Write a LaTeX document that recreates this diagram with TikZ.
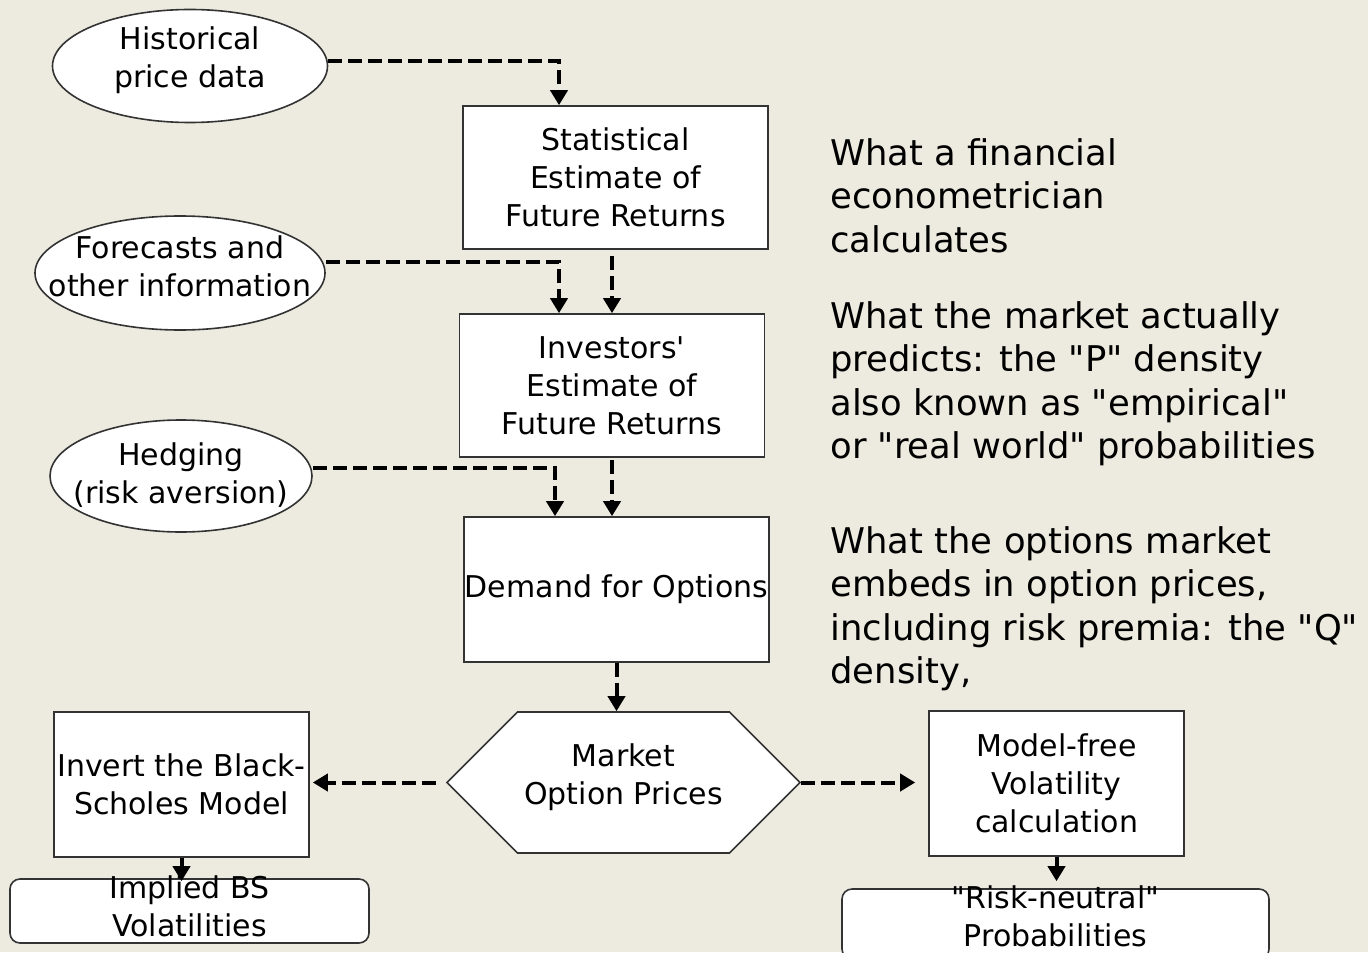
\documentclass[tikz,border=0pt]{standalone}
\usepackage{fontspec}
\setmainfont{DejaVu Sans}[Ligatures=TeXOff]
\usetikzlibrary{arrows.meta,positioning,shapes.geometric,shapes.symbols}
\definecolor{paperbeige}{RGB}{237,235,224}
\definecolor{edgegray}{RGB}{51,51,51}
\newcommand{\boxfont}{\fontsize{15}{19}\selectfont}
\newcommand{\notefont}{\fontsize{17.7}{21.75}\selectfont}

\begin{document}
\begin{tikzpicture}[x=0.5pt, y=-0.5pt, every node/.style={font=\boxfont},
  plainbox/.style={draw=edgegray, line width=0.8pt, fill=white, inner sep=0pt, align=center},
  oval/.style={ellipse, draw=edgegray, line width=0.8pt, fill=white},
  roundbox/.style={draw=edgegray, line width=0.8pt, fill=white, rounded corners=5pt},
  dashflow/.style={line width=2pt, dash pattern=on 7pt off 3pt, -{Triangle[width=8.5pt,length=7.5pt]}},
  flow/.style={line width=2pt, -{Triangle[width=8.5pt,length=7.5pt]}},
  note/.style={font=\notefont, align=left, anchor=north west, inner sep=0pt}]
  \fill[paperbeige] (0,0) rectangle (1368,952);
  \useasboundingbox (0,0) rectangle (1368,952);
  % inputs on the left
  \node[oval, minimum width=137.5pt, minimum height=56.5pt, label={[align=center,yshift=3pt]center:Historical\\price data}] (hist) at (190,66) {};
  \node[oval, minimum width=145pt, minimum height=57pt, label={[align=center,yshift=3.5pt]center:Forecasts and\\other information}] (fore) at (180,273) {};
  \node[oval, minimum width=131pt, minimum height=56pt, label={[align=center,yshift=0.5pt]center:Hedging\\(risk aversion)}] (hedge) at (181,476) {};
  % main chain
  \node[plainbox, minimum width=152.5pt, minimum height=71.5pt] (stat) at (615.5,177.5) {Statistical\\Estimate of\\Future Returns};
  \node[plainbox, minimum width=152.5pt, minimum height=71.5pt] (inv) at (612,385.5) {Investors'\\Estimate of\\Future Returns};
  \node[plainbox, minimum width=152.5pt, minimum height=72.5pt] (dem) at (616.5,589.5) {Demand for Options};
  \node[signal, signal to=east and west, signal pointer angle=90, draw=edgegray, line width=0.8pt, fill=white,
        minimum width=176.5pt, minimum height=70.5pt, label={[align=center,yshift=2.5pt]center:Market\\Option Prices}] (hex) at (623.5,782.5) {};
  \node[plainbox, minimum width=127.5pt, minimum height=72.5pt] (bs) at (181.5,784.5) {Invert the Black-\\Scholes Model};
  \node[plainbox, minimum width=127.5pt, minimum height=72.5pt] (mf) at (1056.5,783.5) {Model-free\\Volatility\\calculation};
  \node[roundbox, minimum width=179.5pt, minimum height=32pt, label={[align=center,yshift=2.5pt]center:Implied BS\\Volatilities}] (impl) at (189.5,911) {};
  \node[roundbox, minimum width=213.5pt, minimum height=35pt, label={[align=center,yshift=4pt]center:"Risk-neutral"\\Probabilities}] (risk) at (1055.5,924) {};
  % notes on the right
  \node[note] (econ) at (830,138) {What a financial\\econometrician\\calculates};
  \node[note] (pdens) at (830,301) {What the market actually\\predicts: the "P" density\\also known as "empirical"\\or "real world" probabilities};
  \node[note] (qdens) at (830,526) {What the options market\\embeds in option prices,\\including risk premia: the "Q"\\density,};
  % connectors
  \draw[dashflow] ([yshift=2.5pt]hist.east) -| ([xshift=-28.25pt]stat.north);
  \draw[dashflow] ([yshift=5.5pt]fore.east) -| ([xshift=-26.5pt]inv.north);
  \draw[dashflow, shorten <=3pt] (stat.south -| inv.north) -- (inv.north);
  \draw[dashflow] ([yshift=4pt]hedge.east) -| ([xshift=-30.75pt]dem.north);
  \draw[dashflow, shorten <=1pt] (inv.south) -- (inv.south |- dem.north);
  \draw[dashflow] (dem.south) -- (dem.south |- hex.north);
  \draw[dashflow, shorten <=5pt, shorten >=1.5pt] (hex.west) -- (hex.west -| bs.east);
  \draw[dashflow, shorten >=6.5pt] (hex.east) -- (hex.east -| mf.west);
  \draw[flow, shorten >=-1.5pt] (bs.south) -- (bs.south |- impl.north);
  \draw[flow, shorten >=3.5pt] (mf.south) -- (mf.south |- risk.north);
\end{tikzpicture}
\end{document}
